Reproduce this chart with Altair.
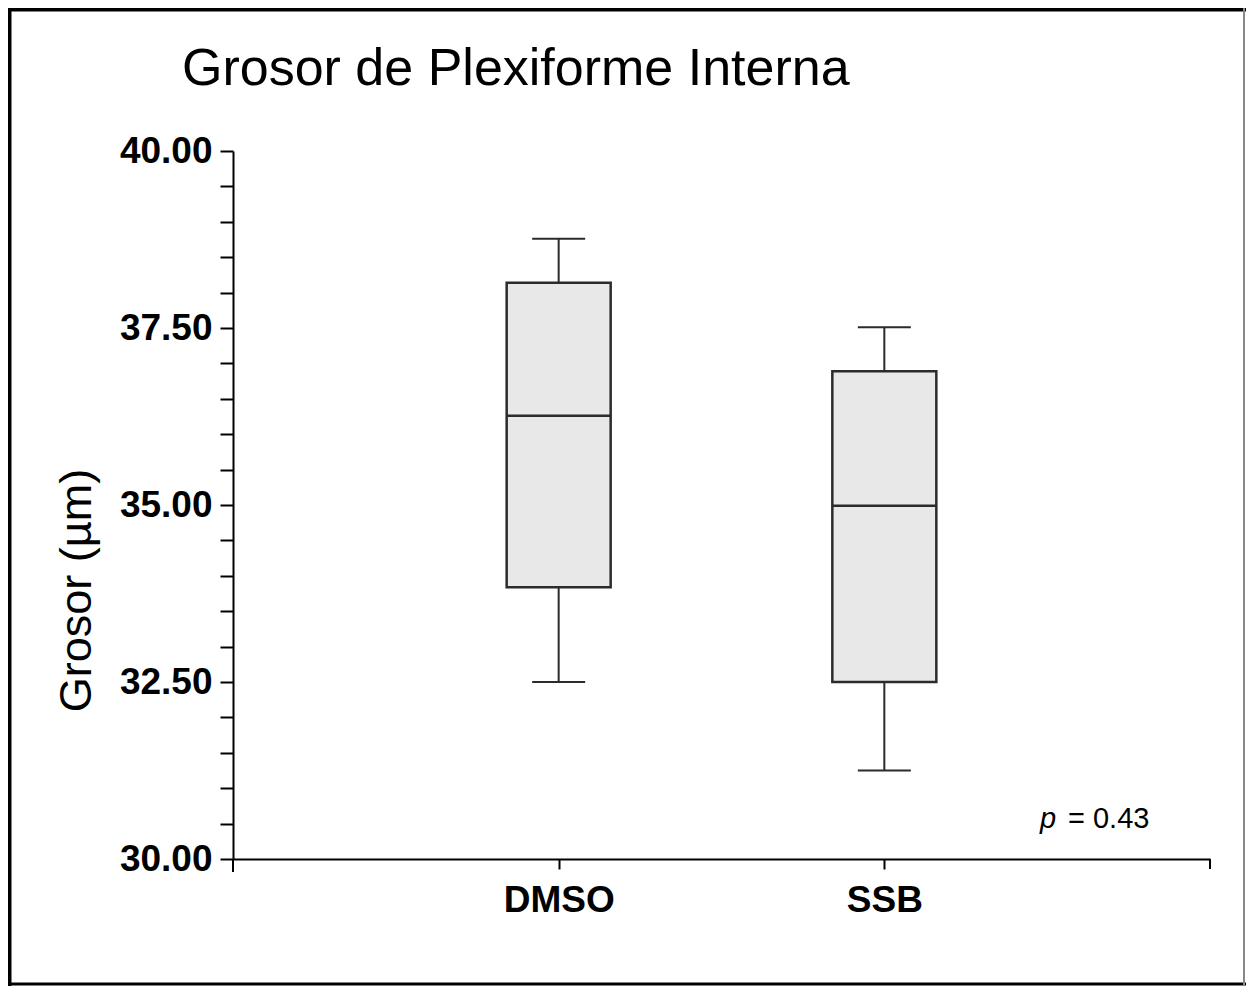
import altair as alt
import pandas as pd

# ---- data ----
groups = ["DMSO", "SSB"]
whisker_low = [32.50, 31.25]
q1 = [33.84, 32.50]
median = [36.26, 34.99]
q3 = [38.14, 36.89]
whisker_high = [38.76, 37.51]

y_tick_values = [30.0, 30.5, 31.0, 31.5, 32.0, 32.5, 33.0, 33.5, 34.0, 34.5, 35.0,
                 35.5, 36.0, 36.5, 37.0, 37.5, 38.0, 38.5, 39.0, 39.5, 40.0]

title_text = "Grosor de Plexiforme Interna"
y_title = "Grosor (µm)"
p_label = "p"
p_value = "= 0.43"

FONT = "Liberation Sans"
DARK = "#2b2b2b"

df = pd.DataFrame({
    "group": groups,
    "lo": whisker_low,
    "q1": q1,
    "med": median,
    "q3": q3,
    "hi": whisker_high,
})

x_enc = alt.X(
    "group:N",
    scale=alt.Scale(type="point", padding=1, domain=groups),
    axis=alt.Axis(
        title=None, labelAngle=0, labelFont=FONT, labelFontSize=37,
        labelFontWeight="bold", labelColor="black", labelPadding=13,
        tickSize=10, tickWidth=2, tickColor="black",
        domainColor="black", domainWidth=2, grid=False,
    ),
)

y_scale = alt.Scale(domain=[30, 40], nice=False, zero=False)
y_axis = alt.Axis(
    values=y_tick_values,
    labelExpr="datum.value % 2.5 == 0 ? format(datum.value, '.2f') : ''",
    labelFont=FONT, labelFontSize=37, labelFontWeight="bold", labelColor="black",
    labelPadding=8, tickSize=13, tickWidth=2, tickColor="black",
    domainColor="black", domainWidth=2, grid=False,
    title=y_title, titleFont=FONT, titleFontSize=45, titleFontWeight="normal",
    titleColor="black", titleX=-157, titleY=439, titleAlign="center",
    titleBaseline="middle", titleAngle=270,
)


def Y(field):
    return alt.Y(field, type="quantitative", scale=y_scale, axis=y_axis)


base = alt.Chart(df)

whisker = base.mark_rule(color=DARK, strokeWidth=2).encode(
    x=x_enc, y=Y("lo"), y2="hi"
)
cap_low = base.mark_tick(color=DARK, thickness=2, size=53, opacity=1).encode(x=x_enc, y=Y("lo"))
cap_high = base.mark_tick(color=DARK, thickness=2, size=53, opacity=1).encode(x=x_enc, y=Y("hi"))
box = base.mark_bar(size=104, fill="#e8e8e8", stroke=DARK, strokeWidth=2.5, opacity=1).encode(
    x=x_enc, y=Y("q1"), y2="q3"
)
med = base.mark_tick(color=DARK, thickness=2.5, size=104, opacity=1).encode(x=x_enc, y=Y("med"))

one = pd.DataFrame({"k": [0]})

# axis end ticks
end_ticks = alt.layer(
    alt.Chart(one).mark_rule(color="black", strokeWidth=2).encode(
        x=alt.value(0), y=alt.value(708), y2=alt.value(721)),
    alt.Chart(one).mark_rule(color="black", strokeWidth=2).encode(
        x=alt.value(977), y=alt.value(708), y2=alt.value(718)),
)

# title and annotation
title = alt.Chart(pd.DataFrame({"t": [title_text]})).mark_text(
    font=FONT, fontSize=52, align="left", baseline="alphabetic", color="black"
).encode(text="t:N", x=alt.value(-51), y=alt.value(-66))

p_txt = alt.Chart(pd.DataFrame({"t": [p_label]})).mark_text(
    font=FONT, fontSize=29, fontStyle="italic", align="left", baseline="alphabetic", color="black"
).encode(text="t:N", x=alt.value(807), y=alt.value(677))

p_val = alt.Chart(pd.DataFrame({"t": [p_value]})).mark_text(
    font=FONT, fontSize=29, align="left", baseline="alphabetic", color="black"
).encode(text="t:N", x=alt.value(835), y=alt.value(677))

# outer frame
frame = alt.layer(
    alt.Chart(one).mark_rule(color="black", strokeWidth=4).encode(
        x=alt.value(-223.5), y=alt.value(-143), y2=alt.value(835)),
    alt.Chart(one).mark_rule(color="black", strokeWidth=4).encode(
        x=alt.value(-225), x2=alt.value(1013), y=alt.value(-141.5)),
    alt.Chart(one).mark_rule(color="black", strokeWidth=3).encode(
        x=alt.value(-225), x2=alt.value(1013), y=alt.value(833)),
    alt.Chart(one).mark_rule(color="#888888", strokeWidth=2).encode(
        x=alt.value(1011), y=alt.value(-143), y2=alt.value(835)),
)

chart = alt.layer(
    whisker, cap_low, cap_high, box, med, end_ticks, title, p_txt, p_val, frame
).properties(
    width=977,
    height=708,
    autosize=alt.AutoSizeParams(type="none"),
    padding={"left": 225, "top": 143, "right": 36, "bottom": 127},
    background="white",
).configure_view(stroke=None)

chart.save("out.html", embed_options={"renderer": "svg", "actions": False})
